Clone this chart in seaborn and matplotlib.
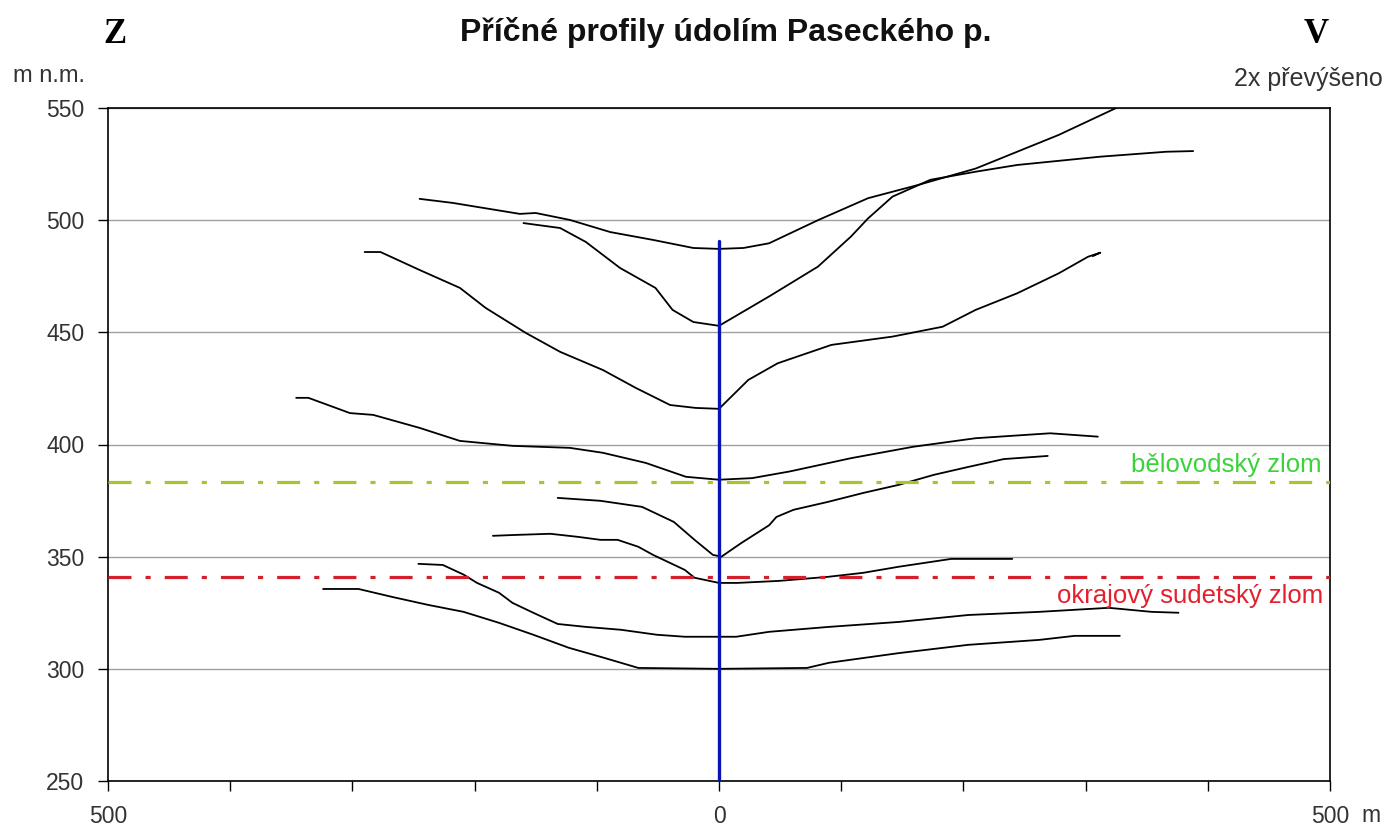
import matplotlib
matplotlib.use("Agg")
import matplotlib.pyplot as plt
import seaborn as sns

# Cross-section profiles of the valley (distance from stream axis in m, elevation in m a.s.l.)
p1_x = [-245, -218, -163, -150, -122, -89, -54, -21, 0, 20, 41, 81, 122, 163, 210, 244, 278, 325]
p1_y = [509.5, 507.7, 502.8, 503.2, 500.1, 494.7, 491.2, 487.6, 487.2, 487.6, 489.7, 500.0, 509.8, 515.7, 523.0, 530.5, 538.0, 550.0]

p2_x = [-160, -130, -109, -81, -52, -38, -21, 0, 41, 81, 108, 122, 142, 173, 210, 244, 312, 366, 388]
p2_y = [498.7, 496.5, 490.3, 478.7, 469.8, 460.0, 454.6, 452.9, 466.0, 479.3, 492.7, 500.8, 510.5, 518.0, 521.6, 524.6, 528.3, 530.5, 530.8]

p3_x = [-290, -277, -245, -212, -191, -158, -130, -95, -68, -40, -19, 0, 24, 48, 92, 142, 183, 210, 244, 278, 302, 312, 306]
p3_y = [485.8, 485.8, 477.8, 469.8, 460.9, 449.7, 441.3, 433.2, 425.2, 417.6, 416.3, 415.9, 428.8, 436.2, 444.4, 448.1, 452.5, 460.0, 467.4, 476.3, 483.7, 485.5, 484.0]

p4_x = [-346, -336, -302, -283, -245, -212, -169, -122, -95, -60, -27, 0, 27, 58, 108, 159, 210, 271, 310]
p4_y = [420.8, 420.8, 414.0, 413.2, 407.4, 401.6, 399.4, 398.5, 396.3, 391.8, 385.6, 384.3, 385.0, 388.0, 393.9, 399.0, 402.8, 405.0, 403.5]

p5_x = [-132, -97, -63, -37, -20, -5, 2, 18, 41, 47, 61, 89, 118, 147, 176, 204, 233, 269]
p5_y = [376.2, 374.9, 372.2, 365.5, 357.5, 350.8, 350.0, 356.0, 364.0, 367.7, 370.9, 374.4, 378.4, 382.0, 386.5, 390.0, 393.5, 394.9]

p6_x = [-185, -166, -138, -115, -97, -83, -66, -54, -28, -20, 0, 15, 49, 89, 118, 147, 190, 240]
p6_y = [359.3, 359.7, 360.2, 358.8, 357.5, 357.5, 354.4, 350.8, 344.1, 340.6, 338.3, 338.3, 339.2, 341.0, 342.8, 345.5, 349.0, 349.0]

p7_x = [-246, -226, -209, -198, -180, -169, -152, -132, -109, -80, -51, -28, 0, 14, 41, 90, 147, 204, 262, 319, 354, 376]
p7_y = [346.8, 346.3, 342.0, 338.3, 333.9, 329.4, 325.0, 320.0, 318.7, 317.4, 315.2, 314.3, 314.3, 314.3, 316.5, 318.7, 320.9, 324.0, 325.4, 327.2, 325.4, 325.0]

p8_x = [-324, -295, -267, -238, -209, -180, -152, -123, -94, -66, 0, 72, 90, 147, 204, 262, 291, 328]
p8_y = [335.6, 335.6, 332.0, 328.5, 325.4, 320.5, 315.2, 309.4, 304.9, 300.4, 300.0, 300.4, 302.7, 307.0, 310.7, 312.9, 314.7, 314.7]

profiles = [(p1_x, p1_y), (p2_x, p2_y), (p3_x, p3_y), (p4_x, p4_y),
            (p5_x, p5_y), (p6_x, p6_y), (p7_x, p7_y), (p8_x, p8_y)]

# Fault lines and stream axis
fault_names = ["bělovodský zlom", "okrajový sudetský zlom"]
fault_levels = [383.3, 341.0]
axis_top = 490.7

y_ticks = [250, 300, 350, 400, 450, 500, 550]
x_ticks = [-500, -400, -300, -200, -100, 0, 100, 200, 300, 400, 500]
x_tick_labels = ["500", "", "", "", "", "0", "", "", "", "", "500"]

sns.set_theme(style="white")
plt.rcParams["font.family"] = ["Liberation Sans", "DejaVu Sans"]

W, H = 1387, 827
fig = plt.figure(figsize=(W / 100, H / 100), dpi=100)
ax = fig.add_axes([108 / W, (H - 781) / H, (1330 - 108) / W, (781 - 108) / H])

for px, py in profiles:
    sns.lineplot(x=px, y=py, sort=False, estimator=None, color="black",
                 linewidth=1.3, ax=ax, legend=False)

# fault lines (dash-dot)
fault_colors = ["#a9c430", "#d4202c"]
text_colors = ["#3ad33a", "#e3202e"]
for lvl, col in zip(fault_levels, fault_colors):
    ax.axhline(lvl, color=col, linewidth=2.3, linestyle=(0, (7.2, 4.4, 1.6, 4.4)), zorder=3)

# stream axis
ax.plot([0, 0], [250, axis_top], color="#0a14b4", linewidth=2.4, zorder=4)

ax.set_xlim(-500, 500)
ax.set_ylim(250, 550)
ax.set_yticks(y_ticks)
ax.set_yticklabels([str(v) for v in y_ticks])
ax.set_xticks(x_ticks)
ax.set_xticklabels(x_tick_labels)
ax.yaxis.grid(True, color="#a0a0a0", linewidth=1.0)
ax.xaxis.grid(False)
ax.set_axisbelow(True)
for s in ax.spines.values():
    s.set_visible(True)
    s.set_color("black")
    s.set_linewidth(1.2)
ax.tick_params(axis="both", which="both", direction="out", length=7, width=1.0,
               color="black", labelsize=16.5, labelcolor="#333333", pad=10,
               left=True, bottom=True)
ax.set_xlabel("")
ax.set_ylabel("")

def fig_text(x, y, s, **kw):
    fig.text(x / W, 1 - y / H, s, **kw)

fig_text(726, 41, "Příčné profily údolím Paseckého p.", ha="center", va="baseline",
         fontsize=23, fontweight="bold", color="#111111")
fig_text(115, 43, "Z", ha="center", va="baseline", fontsize=25, fontweight="bold",
         family=["Liberation Serif", "DejaVu Serif"], color="black")
fig_text(1316, 43, "V", ha="center", va="baseline", fontsize=25, fontweight="bold",
         family=["Liberation Serif", "DejaVu Serif"], color="black")
fig_text(85, 82, "m n.m.", ha="right", va="baseline", fontsize=17, color="#333333")
fig_text(1383, 86, "2x převýšeno", ha="right", va="baseline", fontsize=18, color="#333333")
fig_text(1371, 822, "m", ha="center", va="baseline", fontsize=16.5, color="#333333")
fig_text(1322, 472, fault_names[0], ha="right", va="baseline", fontsize=18.5, color=text_colors[0])
fig_text(1323, 603, fault_names[1], ha="right", va="baseline", fontsize=18.5, color=text_colors[1])

fig.savefig("out.png", dpi=100, facecolor="white")
